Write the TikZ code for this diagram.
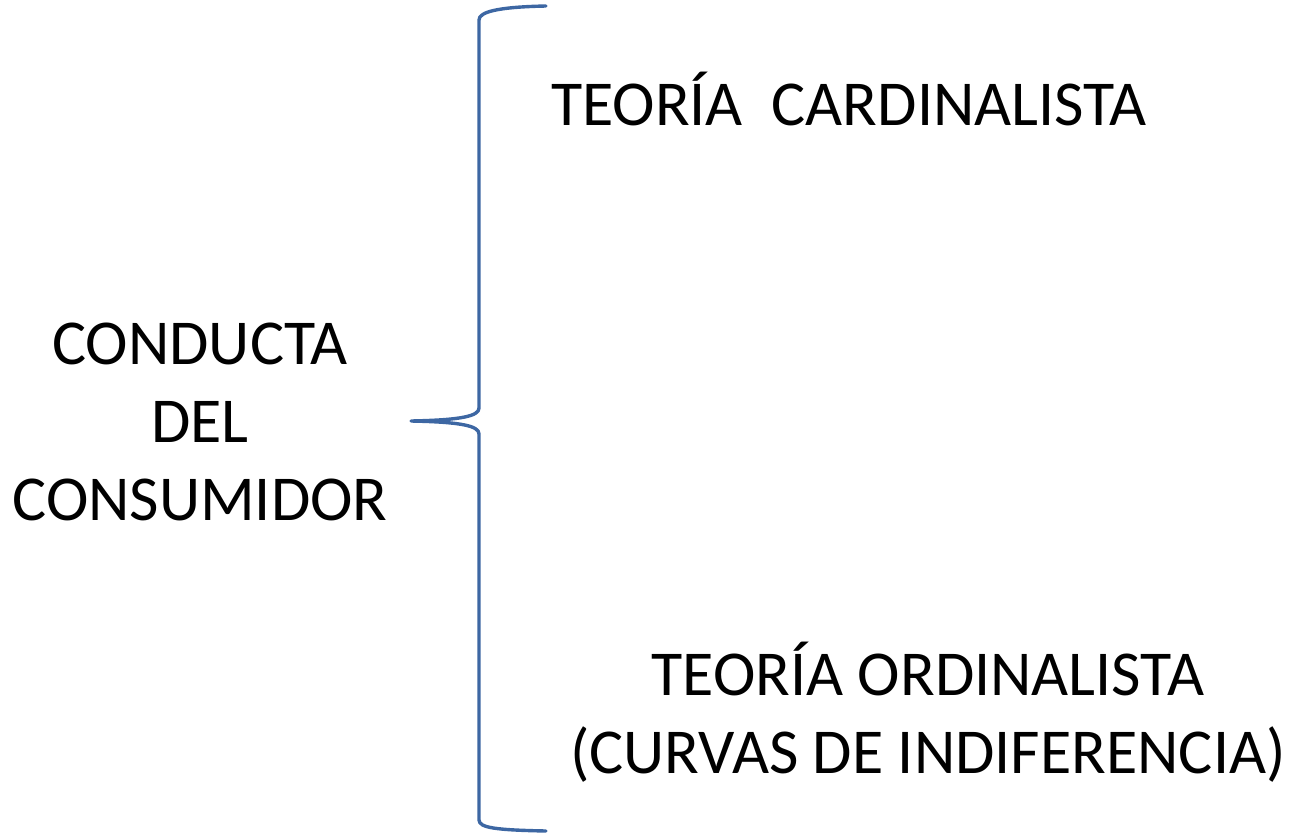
\documentclass[tikz,border=0pt]{standalone}
\usepackage{fontspec}
\setmainfont{Carlito}
\definecolor{brace}{HTML}{3D67A3}
\tikzset{label/.style={inner sep=0pt, font=\fontsize{64}{78}\selectfont}}
\tikzset{bracket/.style={line width=3.4pt, brace, line cap=round, line join=round}}

\begin{document}
\begin{tikzpicture}[x=1pt, y=-1pt]
		\useasboundingbox (0,0) rectangle (1291,833);
		% Coordinates
		\coordinate (T) at (546,6);
		\coordinate (U) at (479,20);
		\coordinate (M1) at (479,408);
		\coordinate (K) at (411,421);
		\coordinate (M2) at (479,434);
		\coordinate (L) at (479,820);
		\coordinate (B) at (546,831);

		% Brace
		\draw[bracket] (T) .. controls (497,7) and (479,12) .. (U) -- (M1)
			.. controls (479,416) and (462,420) .. (K)
			.. controls (462,422) and (479,426) .. (M2) -- (L)
			.. controls (479,828) and (497,830) .. (B);

		% Texts
		\node[label, align=center, anchor=north] (conducta) at (200,323) {CONDUCTA\\DEL\\CONSUMIDOR};
		\node[label, anchor=base west] (cardinal) at (551,125) {TEORÍA\ \ CARDINALISTA};
		\node[label, align=center, anchor=base] (ordinal) at (928,773) {TEORÍA ORDINALISTA\\(CURVAS DE INDIFERENCIA)};
	\end{tikzpicture}
\end{document}
